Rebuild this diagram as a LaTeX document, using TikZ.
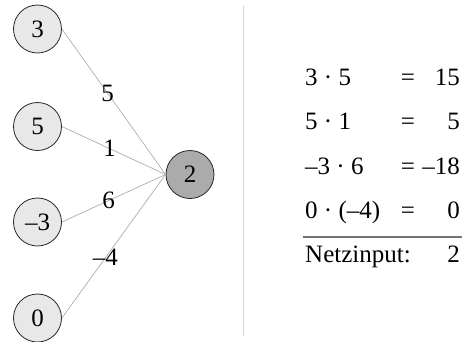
\documentclass[tikz,border=0pt]{standalone}
\usepackage{fontspec}
\setmainfont{Liberation Serif}
\begin{document}
\begin{tikzpicture}[x=1pt,y=-1pt,
  every node/.style={font=\fontsize{25}{30}\selectfont},
  neuron/.style={circle,draw=black!85,line width=0.8pt,minimum size=48pt,inner sep=0pt},
  inp/.style={neuron,fill=black!9},
  outp/.style={neuron,fill=black!33},
  conn/.style={draw=black!32,line width=0.7pt},
  wlabel/.style={inner sep=0pt},
  lcell/.style={anchor=base west,inner sep=0pt},
  ecell/.style={anchor=base,inner sep=0pt},
  rcell/.style={anchor=base east,inner sep=0pt}]
\useasboundingbox (0,0) rectangle (470,341);
\node[inp] (i1) at (37.5,29) {3};
\node[inp] (i2) at (37.5,126.5) {5};
\node[inp] (i3) at (37.5,222) {–3};
\node[inp] (i4) at (37.5,318) {0};
\node[outp] (o) at (190,174.5) {2};
\draw[conn] (i1.east) -- node[wlabel,pos=0.44] {5} (o.west);
\draw[conn] (i2.east) -- node[wlabel,pos=0.46] {1} (o.west);
\draw[conn] (i3.east) -- node[wlabel,pos=0.45] {6} (o.west);
\draw[conn] (i4.east) -- node[wlabel,pos=0.42] {–4} (o.west);
\coordinate (vt) at (243,6);
\coordinate (vb) at (243,336);
\draw[draw=black!17,line width=0.9pt] (vt) -- (vb);
\node[lcell] (a1) at (305,85.5) {3 · 5};
\node[ecell] (e1) at (408,85.5) {=};
\node[rcell] (r1) at (460,85.5) {15};
\node[lcell] (a2) at (305,129.5) {5 · 1};
\node[ecell] (e2) at (408,129.5) {=};
\node[rcell] (r2) at (460,129.5) {5};
\node[lcell] (a3) at (305,174) {–3 · 6};
\node[ecell] (e3) at (408,174) {=};
\node[rcell] (r3) at (460,174) {–18};
\node[lcell] (a4) at (305,218) {0 · (–4)};
\node[ecell] (e4) at (408,218) {=};
\node[rcell] (r4) at (460,218) {0};
\coordinate (hl) at (303,237);
\coordinate (hr) at (462,237);
\draw[draw=black!55,line width=1.2pt] (hl) -- (hr);
\node[lcell] (n) at (305,262) {Netzinput:};
\node[rcell] (nv) at (460,262) {2};
\end{tikzpicture}
\end{document}
